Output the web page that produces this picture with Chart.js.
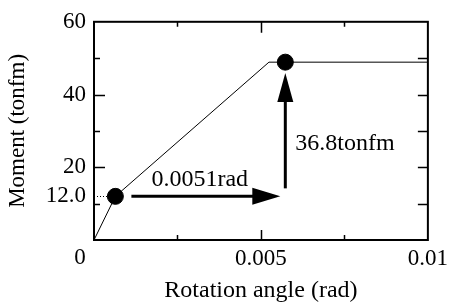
<!DOCTYPE html>
<html>
<head>
<meta charset="utf-8">
<script src="https://cdn.jsdelivr.net/npm/chart.js@4.4.1/dist/chart.umd.min.js"></script>
<style>
  html, body { margin: 0; padding: 0; background: #fff; }
  #wrap { width: 453px; height: 307px; }
</style>
</head>
<body>
<div id="wrap"><canvas id="momentChart"></canvas></div>
<script>
// Moment - rotation curve
var curveX = [0, 0.00064, 0.00524, 0.01];
var curveY = [0, 12.0, 48.9, 48.9];

// marked points
var markX = [0.00064, 0.00573];
var markY = [12.0, 48.9];

// tick labels
var xTicks = [0.005, 0.01];
var xTickLabels = ['0.005', '0.01'];
var yTicks = [12, 20, 40, 60];
var yTickLabels = ['12.0', '20', '40', '60'];

// inner tick marks
var xMarks = [0.0025, 0.005, 0.0075];
var yMarks = [10, 20, 30, 40, 50];

// arrows: [from, to, at]
var hArrow = [0.00112, 0.00558, 12.0];
var vArrow = [14.2, 45.9, 0.00573];
var hLabel = '0.0051rad';
var vLabel = '36.8tonfm';

var FONT = "'Liberation Serif', 'Times New Roman', serif";

function toPoints(xs, ys) {
    return xs.map(function (x, i) { return { x: x, y: ys[i] }; });
}

function arrowHead(ctx, x, y, dir, len, half) {
    ctx.beginPath();
    if (dir === 'right') {
        ctx.moveTo(x, y);
        ctx.lineTo(x - len, y - half);
        ctx.lineTo(x - len, y + half);
    } else {
        ctx.moveTo(x, y);
        ctx.lineTo(x - half, y + len);
        ctx.lineTo(x + half, y + len);
    }
    ctx.closePath();
    ctx.fill();
}

var decorations = {
    id: 'decorations',
    afterDatasetsDraw: function (chart) {
        var ctx = chart.ctx;
        var a = chart.chartArea;
        var xs = chart.scales.x, ys = chart.scales.y;
        ctx.save();
        ctx.strokeStyle = '#000';
        ctx.fillStyle = '#000';

        // frame
        ctx.lineWidth = 2;
        ctx.strokeRect(a.left, a.top, a.right - a.left, a.bottom - a.top);

        // tick marks (inward)
        ctx.lineWidth = 1.5;
        ctx.beginPath();
        xMarks.forEach(function (v) {
            var px = Math.round(xs.getPixelForValue(v)) + 0.5;
            var major = Math.abs(v - 0.005) < 1e-9;
            ctx.moveTo(px, a.bottom); ctx.lineTo(px, a.bottom - (major ? 10 : 5));
            ctx.moveTo(px, a.top); ctx.lineTo(px, a.top + (major ? 11 : 5));
        });
        yMarks.forEach(function (v) {
            var py = Math.round(ys.getPixelForValue(v)) + 0.5;
            var major = v % 20 === 0;
            ctx.moveTo(a.left, py); ctx.lineTo(a.left + (major ? 11 : 6), py);
            ctx.moveTo(a.right, py); ctx.lineTo(a.right - 10, py);
        });
        ctx.stroke();

        // dotted guide to first marked point
        var gy = Math.round(ys.getPixelForValue(markY[0])) + 0.5;
        ctx.lineWidth = 1;
        ctx.setLineDash([1, 2]);
        ctx.beginPath();
        ctx.moveTo(a.left, gy);
        ctx.lineTo(xs.getPixelForValue(markX[0]) - 8, gy);
        ctx.stroke();
        ctx.setLineDash([]);

        // horizontal arrow
        var hx0 = xs.getPixelForValue(hArrow[0]);
        var hx1 = xs.getPixelForValue(hArrow[1]);
        var hy = ys.getPixelForValue(hArrow[2]);
        ctx.lineWidth = 3;
        ctx.beginPath();
        ctx.moveTo(hx0, hy);
        ctx.lineTo(hx1 - 20, hy);
        ctx.stroke();
        arrowHead(ctx, hx1, hy, 'right', 28, 8.5);

        // vertical arrow
        var vx = xs.getPixelForValue(vArrow[2]);
        var vy0 = ys.getPixelForValue(vArrow[0]);
        var vy1 = ys.getPixelForValue(vArrow[1]);
        ctx.beginPath();
        ctx.moveTo(vx, vy0);
        ctx.lineTo(vx, vy1 + 20);
        ctx.stroke();
        arrowHead(ctx, vx, vy1, 'up', 29, 8);

        // labels
        ctx.font = '24px ' + FONT;
        ctx.textAlign = 'left';
        ctx.textBaseline = 'alphabetic';
        ctx.fillText(hLabel, hx0 + 20, hy - 10);
        ctx.fillText(vLabel, vx + 10, ys.getPixelForValue(24.8));

        // shared origin label
        ctx.font = '23px ' + FONT;
        ctx.textAlign = 'center';
        ctx.textBaseline = 'middle';
        ctx.fillText('0', a.left - 14, a.bottom + 18);
        ctx.restore();
    }
};

var ctx = document.getElementById('momentChart').getContext('2d');

var momentChart = new Chart(ctx, {
    type: 'scatter',
    data: {
        datasets: [{
            data: toPoints(curveX, curveY),
            showLine: true,
            borderColor: '#000',
            borderWidth: 1,
            pointRadius: 0,
            order: 2
        }, {
            data: toPoints(markX, markY),
            showLine: false,
            backgroundColor: '#000',
            borderColor: '#000',
            pointRadius: 8,
            order: 1
        }]
    },
    options: {
        responsive: true,
        maintainAspectRatio: false,
        animation: false,
        layout: { padding: { top: 15, right: 20, left: 0, bottom: 0 } },
        plugins: {
            legend: { display: false },
            tooltip: { enabled: false }
        },
        scales: {
            x: {
                type: 'linear',
                min: 0,
                max: 0.01,
                grid: { display: false, drawTicks: false },
                border: { display: false },
                afterBuildTicks: function (scale) {
                    scale.ticks = xTicks.map(function (v) { return { value: v }; });
                },
                afterFit: function (scale) { scale.height = 67; },
                ticks: {
                    color: '#000',
                    padding: 5,
                    maxRotation: 0,
                    font: { family: FONT, size: 23 },
                    callback: function (value, index) { return xTickLabels[index]; }
                },
                title: {
                    display: true,
                    text: 'Rotation angle (rad)',
                    color: '#000',
                    padding: { top: 0, bottom: 2 },
                    font: { family: FONT, size: 24 }
                }
            },
            y: {
                type: 'linear',
                min: 0,
                max: 60,
                grid: { display: false, drawTicks: false },
                border: { display: false },
                afterBuildTicks: function (scale) {
                    scale.ticks = yTicks.map(function (v) { return { value: v }; });
                },
                afterFit: function (scale) { scale.width = 94; },
                ticks: {
                    color: '#000',
                    padding: 8,
                    font: { family: FONT, size: 23 },
                    callback: function (value, index) { return yTickLabels[index]; }
                },
                title: {
                    display: true,
                    text: 'Moment (tonfm)',
                    color: '#000',
                    padding: { top: 4, bottom: 0 },
                    font: { family: FONT, size: 23 }
                }
            }
        }
    },
    plugins: [decorations]
});
</script>
</body>
</html>
